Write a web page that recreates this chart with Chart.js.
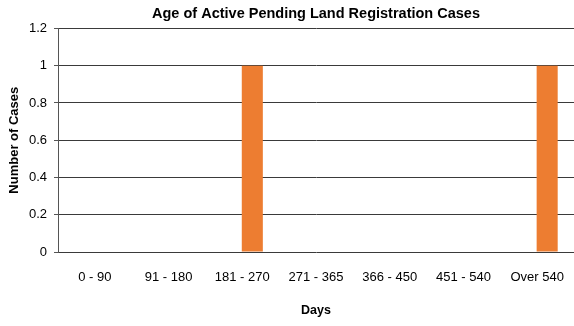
<!DOCTYPE html>
<html>
<head>
<meta charset="utf-8">
<script src="https://cdn.jsdelivr.net/npm/chart.js@4.4.1/dist/chart.umd.min.js"></script>
<style>
  html, body { margin: 0; padding: 0; background: #fff; }
  #wrap { width: 574px; height: 326px; }
</style>
</head>
<body>
<div id="wrap"><canvas id="chart" width="574" height="326"></canvas></div>
<script>
// Age buckets (days) and the number of pending cases in each
const ageBuckets = ['0 - 90', '91 - 180', '181 - 270', '271 - 365', '366 - 450', '451 - 540', 'Over 540'];
const pendingCases = [0, 0, 1, 0, 0, 0, 1];
// Empty companion series: keeps the clustered slot to the left of each bar
const blankSeries = [null, null, null, null, null, null, null];
const yTicks = [0, 0.2, 0.4, 0.6, 0.8, 1, 1.2];

const font = 'Liberation Sans, Arial, sans-serif';

new Chart(document.getElementById('chart'), {
  type: 'bar',
  data: {
    labels: ageBuckets,
    datasets: [
      { label: '', data: blankSeries, backgroundColor: 'rgba(0,0,0,0)' },
      { label: 'Cases', data: pendingCases, backgroundColor: '#ED7D31', borderWidth: 0 }
    ]
  },
  options: {
    responsive: false,
    animation: false,
    categoryPercentage: 0.544,
    barPercentage: 1.05,
    layout: { padding: 0 },
    plugins: {
      legend: { display: false },
      tooltip: { enabled: false },
      title: {
        display: true,
        fullSize: false,
        text: 'Age of Active Pending Land Registration Cases',
        color: '#000',
        font: { family: font, size: 14.5, weight: 'bold' },
        padding: { top: 5, bottom: 6 }
      }
    },
    scales: {
      x: {
        grid: { display: false },
        border: { display: false },
        ticks: { color: '#000', font: { family: font, size: 13 }, padding: 10, maxRotation: 0, autoSkip: false },
        title: {
          display: true, text: 'Days', color: '#000',
          font: { family: font, size: 12.5, weight: 'bold' },
          padding: { top: 18, bottom: 8 }
        },
        afterFit: (s) => { s.height = 74; }
      },
      y: {
        min: 0, max: 1.2,
        afterBuildTicks: (s) => { s.ticks = yTicks.map(v => ({ value: v })); },
        ticks: {
          color: '#000', font: { family: font, size: 13 }, padding: 7,
          callback: (v) => String(Math.round(v * 10) / 10)
        },
        grid: {
          color: '#3a3a3a', lineWidth: 1, borderDash: [1, 1],
          tickLength: 4, tickColor: '#555', tickBorderDash: []
        },
        border: { display: true, color: '#555', width: 1 },
        title: {
          display: true, text: 'Number of Cases', color: '#000',
          font: { family: font, size: 13, weight: 'bold' },
          padding: { top: 7, bottom: 0 }
        },
        afterFit: (s) => { s.width = 58; }
      }
    }
  }
});
</script>
</body>
</html>
